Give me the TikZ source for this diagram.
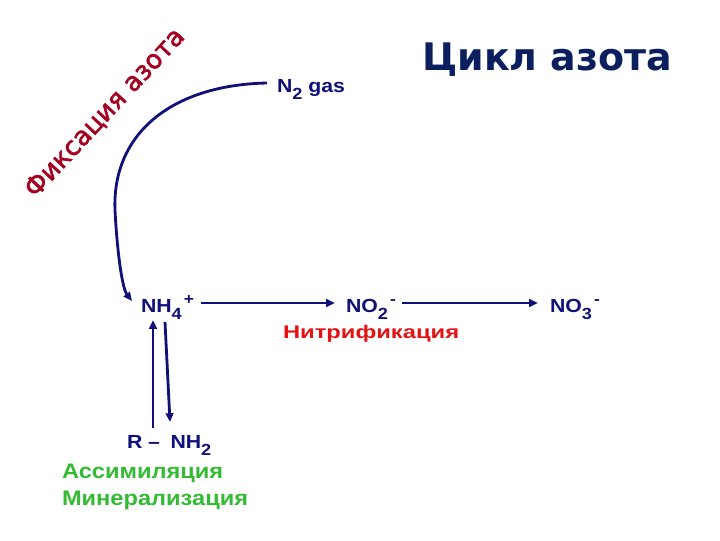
\documentclass[tikz,border=0pt]{standalone}
\usepackage{fontspec}
\usepackage{tikz}
\usetikzlibrary{arrows.meta,positioning,calc}
\newfontfamily\chemfont[FakeStretch=1.12]{Liberation Sans}
\newfontfamily\procfont[FakeStretch=1.3]{Liberation Sans}
\newfontfamily\greenfont[FakeStretch=1.12]{Liberation Sans}
\newfontfamily\headfont{DejaVu Sans}
\newfontfamily\fixfont[FakeBold=2]{DejaVu Sans}
\newcommand\chsub[1]{\raisebox{-5pt}{\fontsize{11.5}{12}\selectfont #1}}
\newcommand\chsup[1]{\kern1.5pt\raisebox{5.5pt}{\fontsize{11}{12}\selectfont #1}}
\definecolor{nnavy}{HTML}{10107A}
\definecolor{ntitle}{HTML}{0B1F5E}
\definecolor{nred}{HTML}{E41212}
\definecolor{ndark}{HTML}{A50020}
\definecolor{ngreen}{HTML}{33BB33}
\tikzset{
  chem/.style={inner sep=0pt, outer sep=0pt, anchor=base west, text=nnavy,
               font=\chemfont\bfseries\fontsize{13.5}{15}\selectfont},
  proc/.style={chem, text=nred, font=\procfont\bfseries\fontsize{13}{15}\selectfont},
  assim/.style={chem, text=ngreen, font=\greenfont\bfseries\fontsize{15}{17}\selectfont},
  arr/.style={-{Triangle[length=2.2mm,width=1.9mm]}, draw=nnavy, line width=2pt},
}
\begin{document}
\begin{tikzpicture}[x=0.025cm, y=-0.025cm]
  \useasboundingbox (0,0) rectangle (720,540);
  \node[anchor=base west, inner sep=0pt, text=ntitle, font=\headfont\bfseries\fontsize{27}{30}\selectfont]
    (title) at (422,70) {Цикл азота};
  \node[rotate=47, inner sep=0pt, text=ndark, font=\fixfont\fontsize{18.5}{20}\selectfont]
    (fix) at (105,113) {Фиксация азота};

  \node[chem] (n2) at (277,92) {N\chsub{2} gas};
  \node[chem] (nh4) at (141,312) {NH\chsub{4}\chsup{+}};
  \node[chem] (no2) at (346,312) {NO\chsub{2}\chsup{-}};
  \node[chem] (no3) at (550,312) {NO\chsub{3}\chsup{-}};
  \node[proc] (nitr) at (283,338) {Нитрификация};
  \node[chem] (rnh2) at (127,448) {R –\hspace{0.55em}NH\chsub{2}};
  \node[assim] (asm) at (62,478) {Ассимиляция};
  \node[assim] (mnr) at (62,505) {Минерализация};

  % fixation
  \draw[arr] ($(n2.base west)+(-10,-9)$) .. controls (170,85) and (112,135) .. (115,210)
    .. controls (117,250) and (122,288) .. ($(nh4.base west)+(-9,-11)$);
  % nitrification
  \draw[arr] ($(nh4.base west)+(60,-9)$) -- ($(no2.base west)+(-11,-9)$);
  \draw[arr] ($(no2.base west)+(56,-9)$) -- ($(no3.base west)+(-12,-9)$);
  % assimilation / mineralisation
  \draw[arr] ($(rnh2.base west)+(26,-20)$) -- ($(nh4.base west)+(12,8)$);
  \draw[arr] ($(nh4.base west)+(24,10)$) -- ($(rnh2.base west)+(43,-26)$);
\end{tikzpicture}
\end{document}
